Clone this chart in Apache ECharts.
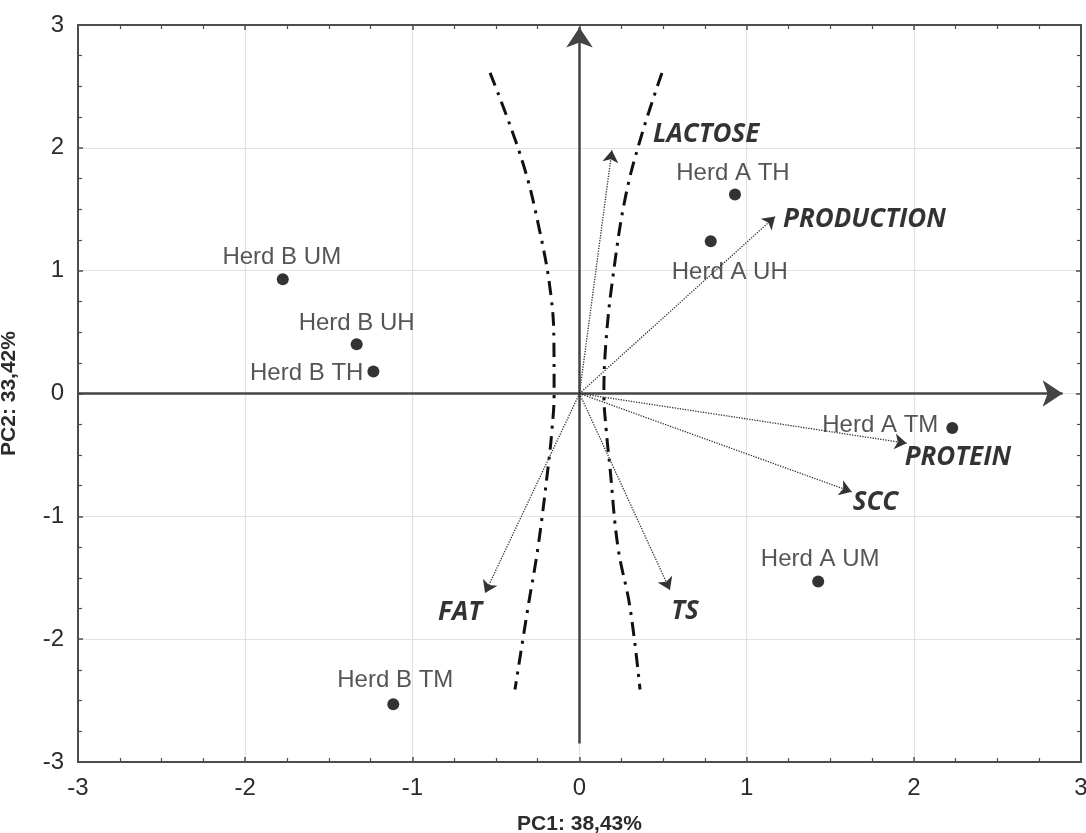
<!DOCTYPE html>
<html>
<head>
<meta charset="utf-8">
<script src="https://cdn.jsdelivr.net/npm/echarts@6/dist/echarts.min.js"></script>
<style>
html, body { margin: 0; padding: 0; background: #fff; }
#chart { width: 1086px; height: 833px; }
</style>
</head>
<body>
<div id="chart"></div>
<script>
// sample scores (PC1, PC2)
const herdNames = ['Herd A TH', 'Herd A UH', 'Herd B UM', 'Herd B UH', 'Herd B TH', 'Herd A TM', 'Herd A UM', 'Herd B TM'];
const herdPC1 = [0.93, 0.785, -1.775, -1.333, -1.233, 2.23, 1.428, -1.114];
const herdPC2 = [1.62, 1.24, 0.93, 0.40, 0.18, -0.28, -1.53, -2.53];

// variable loadings (arrow tips)
const varNames = ['LACTOSE', 'PRODUCTION', 'PROTEIN', 'SCC', 'TS', 'FAT'];
const varPC1 = [0.194, 1.17, 1.957, 1.628, 0.541, -0.565];
const varPC2 = [1.98, 1.44, -0.405, -0.80, -1.60, -1.625];

// dash-dot boundary curves
const leftCurveX = [-0.535, -0.344, -0.236, -0.170, -0.153, -0.152, -0.165, -0.188, -0.248, -0.308, -0.386];
const leftCurveY = [2.61, 1.90, 1.31, 0.79, 0.40, 0.00, -0.30, -0.60, -1.25, -1.74, -2.41];
const rightCurveX = [0.493, 0.362, 0.272, 0.200, 0.160, 0.146, 0.160, 0.182, 0.230, 0.302, 0.362];
const rightCurveY = [2.61, 2.06, 1.58, 0.95, 0.45, 0.00, -0.30, -0.60, -1.25, -1.74, -2.41];

// axis range / ticks
const ticks = [-3, -2, -1, 0, 1, 2, 3];
const axisArrowX = [-3, 2.89];   // horizontal axis arrow, from -> to
const axisArrowY = [-2.85, 2.98]; // vertical axis arrow, from -> to

// label placement (px offsets from the point)
const herdLabelPos = [
    { offset: [-2, -21], align: 'center' },
    { offset: [19, 31], align: 'center' },
    { offset: [-1, -22], align: 'center' },
    { offset: [0, -21], align: 'center' },
    { offset: [-10, 2], align: 'right' },
    { offset: [-14, -3], align: 'right' },
    { offset: [2, -22], align: 'center' },
    { offset: [2, -24], align: 'center' }
];
const varLabelPos = [
    { offset: [41, -16], align: 'left' },
    { offset: [8, 3], align: 'left' },
    { offset: [-2, 14], align: 'left' },
    { offset: [1, 11], align: 'left' },
    { offset: [15, 22], align: 'center' },
    { offset: [-25, 19], align: 'center' }
];

const toPairs = (xs, ys) => xs.map((x, i) => [x, ys[i]]);

const frameColor = '#4d4d4d';
const baseAxis = {
    type: 'value',
    min: ticks[0],
    max: ticks[ticks.length - 1],
    interval: 1,
    axisLine: { show: true, onZero: false, lineStyle: { color: frameColor, width: 2 } },
    axisTick: { show: true, inside: true, length: 5, lineStyle: { color: frameColor, width: 1.5 } },
    minorTick: { show: true, splitNumber: 4, length: 4, lineStyle: { color: frameColor, width: 1.2 } },
    splitLine: { show: false },
    axisLabel: { show: false }
};
const tickLabel = { show: true, color: '#2b2b2b', fontSize: 24, fontFamily: 'Liberation Sans, Arial', margin: 14 };
const gridLine = { show: true, lineStyle: { color: '#e2e2e2', width: 1.2 } };

const chart = echarts.init(document.getElementById('chart'));

chart.setOption({
    backgroundColor: '#fff',
    animation: false,
    grid: { left: 78, right: 5, top: 25, bottom: 71, containLabel: false, outerBoundsMode: 'none' },
    xAxis: [
        Object.assign({}, baseAxis, {
            position: 'bottom',
            axisLabel: tickLabel,
            splitLine: gridLine,
            name: 'PC1: 38,43%',
            nameLocation: 'middle',
            nameGap: 52,
            nameTextStyle: { color: '#2b2b2b', fontSize: 21, fontWeight: 'bold', fontFamily: 'Liberation Sans, Arial' }
        }),
        Object.assign({}, baseAxis, { position: 'top' })
    ],
    yAxis: [
        Object.assign({}, baseAxis, {
            position: 'left',
            axisLabel: tickLabel,
            splitLine: gridLine,
            name: 'PC2: 33,42%',
            nameLocation: 'middle',
            nameGap: 58,
            nameRotate: 90,
            nameTextStyle: { color: '#2b2b2b', fontSize: 21, fontWeight: 'bold', fontFamily: 'Liberation Sans, Arial' }
        }),
        Object.assign({}, baseAxis, { position: 'right' })
    ],
    series: [
        // axis arrows
        {
            type: 'lines',
            coordinateSystem: 'cartesian2d',
            symbol: ['none', 'arrow'],
            symbolSize: [10, 20],
            lineStyle: { color: '#444', width: 2.5, opacity: 1 },
            z: 3,
            data: [
                { coords: [[axisArrowX[0], 0], [axisArrowX[1], 0]] },
                { coords: [[0, axisArrowY[0]], [0, axisArrowY[1]]] }
            ]
        },
        // dash-dot boundaries
        {
            type: 'line',
            data: toPairs(leftCurveX, leftCurveY),
            smooth: 0.4,
            symbol: 'none',
            lineStyle: { color: '#111', width: 3, type: [14, 7, 3, 7] },
            z: 4
        },
        {
            type: 'line',
            data: toPairs(rightCurveX, rightCurveY),
            smooth: 0.4,
            symbol: 'none',
            lineStyle: { color: '#111', width: 3, type: [14, 7, 3, 7] },
            z: 4
        },
        // variable vectors
        {
            type: 'lines',
            coordinateSystem: 'cartesian2d',
            symbol: ['none', 'arrow'],
            symbolSize: [8, 12],
            lineStyle: { color: '#333', width: 1.3, type: 'dotted', opacity: 1 },
            z: 5,
            data: varNames.map((n, i) => ({ coords: [[0, 0], [varPC1[i], varPC2[i]]] }))
        },
        // variable names
        {
            type: 'scatter',
            symbolSize: 0,
            z: 6,
            data: varNames.map((n, i) => ({
                value: [varPC1[i], varPC2[i]],
                name: n,
                label: {
                    show: true,
                    position: [0, 0],
                    offset: varLabelPos[i].offset,
                    align: varLabelPos[i].align,
                    verticalAlign: 'middle',
                    formatter: '{b}',
                    color: '#000',
                    fontSize: 26,
                    fontWeight: 'bold',
                    fontStyle: 'italic',
                    fontFamily: 'Open Sans'
                }
            }))
        },
        // herd points
        {
            type: 'scatter',
            symbol: 'circle',
            symbolSize: 12,
            itemStyle: { color: '#000' },
            z: 7,
            data: herdNames.map((n, i) => ({
                value: [herdPC1[i], herdPC2[i]],
                name: n,
                label: {
                    show: true,
                    position: [6, 6],
                    offset: herdLabelPos[i].offset,
                    align: herdLabelPos[i].align,
                    verticalAlign: 'middle',
                    formatter: '{b}',
                    color: '#2b2b2b',
                    fontSize: 24,
                    fontFamily: 'Liberation Sans, Arial'
                }
            }))
        }
    ]
});
</script>
</body>
</html>
